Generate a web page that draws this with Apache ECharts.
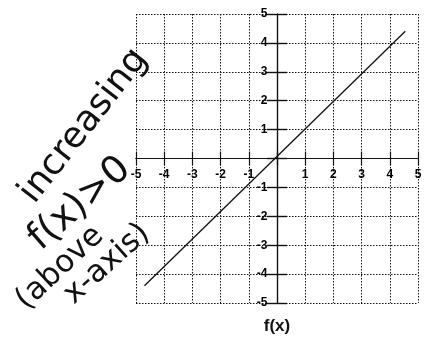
<!DOCTYPE html>
<html>
<head>
<meta charset="utf-8">
<script src="https://cdn.jsdelivr.net/npm/echarts@6/dist/echarts.min.js"></script>
<style>
  html, body { margin: 0; padding: 0; background: #fff; }
  #chart { width: 424px; height: 341px; }
</style>
</head>
<body>
<div id="chart"></div>
<script>
// Graph of f(x): a straight line rising from lower left to upper right
const axisTicks = [-5, -4, -3, -2, -1, 0, 1, 2, 3, 4, 5];
const lineX = [-4.7, 4.55];
const lineY = [-4.4, 4.4];
const chartTitle = 'f(x)';
// handwritten notes beside the graph
const notes = ['increasing', 'f(x)>0', '(above', 'x-axis)'];

const lineData = lineX.map((x, i) => [x, lineY[i]]);
const tickMin = axisTicks[0];
const tickMax = axisTicks[axisTicks.length - 1];
const nonZero = axisTicks.filter(v => v !== 0);

const dotted = { show: true, lineStyle: { color: '#111', type: [1.5, 1.5], width: 1 } };
const labelStyle = { color: '#000', opacity: 1, fontSize: 12, fontWeight: 700, fontFamily: 'Liberation Sans' };
const axisLine = { onZero: true, onZeroAxisIndex: 0, lineStyle: { color: '#111', width: 1.2 } };

// tick labels sit along the axes through the origin
const tickLabelSeries = (data, position, distance) => ({
  type: 'scatter', data, symbolSize: 1, silent: true,
  itemStyle: { color: 'rgba(0,0,0,0)' },
  label: Object.assign({
    show: true, position, distance,
    formatter: p => String(position === 'bottom' ? p.value[0] : p.value[1])
  }, labelStyle)
});

const handText = (text, x, y, deg, size) => ({
  type: 'text', x, y, rotation: deg * Math.PI / 180,
  style: { text, fontSize: size, fontFamily: 'DejaVu Sans', fill: '#111', align: 'center', verticalAlign: 'middle' }
});

const chart = echarts.init(document.getElementById('chart'));
chart.setOption({
  animation: false,
  backgroundColor: '#fff',
  title: {
    text: chartTitle, left: 272, top: 313, textAlign: 'center',
    textStyle: { fontFamily: 'Liberation Sans', fontSize: 17, fontWeight: 'bold', color: '#111' }
  },
  grid: { left: 136, right: 6, top: 14, bottom: 38 },
  xAxis: [{
    type: 'value', min: tickMin, max: tickMax, interval: 1,
    axisLine,
    axisTick: { show: true, length: 7, lineStyle: { color: '#111', width: 1.2 } },
    axisLabel: { show: false },
    splitLine: dotted
  }, {
    // upper half of the crossing tick marks
    type: 'value', min: tickMin, max: tickMax, interval: 1, position: 'bottom',
    axisLine,
    axisTick: { show: true, inside: true, length: 7, lineStyle: { color: '#111', width: 1.2 } },
    axisLabel: { show: false }, splitLine: { show: false }
  }],
  yAxis: [{
    type: 'value', min: tickMin, max: tickMax, interval: 1,
    axisLine,
    axisTick: { show: true, length: 10, lineStyle: { color: '#111', width: 1.4 } },
    axisLabel: { show: false },
    splitLine: dotted
  }, {
    // right half of the crossing tick marks
    type: 'value', min: tickMin, max: tickMax, interval: 1, position: 'left',
    axisLine,
    axisTick: { show: true, inside: true, length: 10, lineStyle: { color: '#111', width: 1.4 } },
    axisLabel: { show: false }, splitLine: { show: false }
  }],
  series: [{
    type: 'line', data: lineData, showSymbol: false, symbol: 'none',
    lineStyle: { color: '#111', width: 1.3 }
  },
    tickLabelSeries(nonZero.map(v => [v, 0]), 'bottom', 10),
    tickLabelSeries(nonZero.map(v => [0, v]), 'left', 9)
  ],
  graphic: [
    handText(notes[0], 84, 126, 52, 36),
    handText(notes[1], 80, 204, 41, 38),
    handText(notes[2], 60, 268, 43, 31),
    handText(notes[3], 107, 264, 42, 31)
  ]
});
</script>
</body>
</html>
